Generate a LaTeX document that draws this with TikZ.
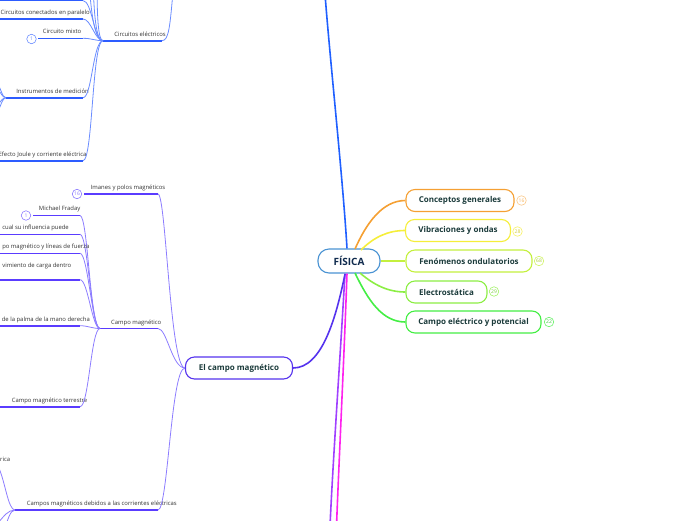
\documentclass[tikz,border=0pt]{standalone}
\usepackage{fontspec}
\setmainfont{Open Sans}
\definecolor{labelgray}{HTML}{333333}
\definecolor{topictext}{HTML}{1B3B3B}
\definecolor{centertext}{HTML}{0F2A4D}
\definecolor{centerborder}{HTML}{4A93D3}
\definecolor{mainblue}{HTML}{2060FF}
\definecolor{cnblue}{HTML}{6A8CFF}
\definecolor{ulblue}{HTML}{2D5CFF}
\definecolor{mainpurple}{HTML}{5533EE}
\definecolor{cnpurple}{HTML}{8C7CFF}
\definecolor{ulpurple}{HTML}{5A3CFF}
\definecolor{orangec}{HTML}{F5A033}
\definecolor{yellowc}{HTML}{F5EE3A}
\definecolor{limec}{HTML}{C4F03E}
\definecolor{green1}{HTML}{8CEE44}
\definecolor{green2}{HTML}{44EE44}
\definecolor{magentac}{HTML}{FF22EE}
\definecolor{violetc}{HTML}{A040FF}
\begin{document}
\begin{tikzpicture}[x=1pt,y=-1pt,
  lbl/.style={font=\fontsize{5.9}{6.5}\selectfont, text=labelgray, inner sep=0pt},
  topic/.style={draw, line width=1.1pt, rounded corners=9pt, fill=white,
    font=\fontsize{8}{9}\selectfont\bfseries, text=topictext,
    minimum height=22pt, inner sep=0pt},
  badge/.style={circle, draw, line width=0.6pt, minimum size=9.5pt, inner sep=0pt,
    font=\fontsize{5}{5}\selectfont},
  mainline/.style={line width=1.6pt},
  cn/.style={line width=0.8pt},
  ul/.style={line width=1.6pt}]
\useasboundingbox (0,0) rectangle (696,520);
\clip (0,0) rectangle (696,520);

% ---------- central node and main branches ----------
\node[draw=centerborder, line width=1.1pt, rounded corners=11pt, fill=white,
  minimum width=62pt, minimum height=24pt, inner sep=0pt,
  font=\fontsize{10}{11}\selectfont\bfseries, text=centertext] (fis) at (349,261) {FÍSICA};

\coordinate (topend) at (325,-6);
\coordinate (magend) at (336.5,526);
\coordinate (vioend) at (330,526);
\draw[mainline, mainblue] (fis.north) ++(-2,0) coordinate (fn) .. controls (343,180) and (330,60) .. (topend);
\draw[mainline, violetc] (fis.south) ++(-4,0) coordinate (fs1) .. controls (340,360) and (333,460) .. (vioend);
\draw[mainline, magentac] (fis.south) ++(-2,0) coordinate (fs2) .. controls (344,360) and (339,460) .. (magend);

% ---------- right topics ----------
\node[topic, draw=orangec, minimum width=108pt] (cg) at (460,200.5) {Conceptos generales};
\node[topic, draw=yellowc, minimum width=105pt] (vo) at (458,230.5) {Vibraciones y ondas};
\node[topic, draw=limec, minimum width=126pt] (fo) at (469,261) {Fenómenos ondulatorios};
\node[topic, draw=green1, minimum width=81pt] (el) at (446.5,292) {Electrostática};
\node[topic, draw=green2, minimum width=135pt] (ce2) at (473.5,322) {Campo eléctrico y potencial};

\node[badge, draw=orangec!60, text=orangec!80] (b1) at (521.5,200.5) {16};
\node[badge, draw=yellowc!80, text=yellowc!85!black] (b2) at (517.5,231.5) {28};
\node[badge, draw=limec!80, text=limec!85!black] (b3) at (539,261) {68};
\node[badge, draw=green1!80, text=green1!85!black] (b4) at (494,291.5) {29};
\node[badge, draw=green2!80, text=green2!85!black] (b5) at (549,322) {22};

\draw[mainline, orangec] (355,249) .. controls (366,224) and (382,200.5) .. (cg.west);
\draw[mainline, yellowc] (361,250) .. controls (374,237) and (388,230.5) .. (vo.west);
\draw[mainline, limec] (fis.east) -- (fo.west);
\draw[mainline, green1] (360,273) .. controls (374,285) and (388,292) .. (el.west);
\draw[mainline, green2] (355,273) .. controls (368,300) and (382,322) .. (ce2.west);

% ---------- El campo magnetico ----------
\node[topic, draw=mainpurple, minimum width=107pt] (cm) at (239,368) {El campo magnético};
\draw[mainline, mainpurple] (345,274) .. controls (336,318) and (322,368) .. (cm.east);

% Imanes
\node[lbl, anchor=base east] (im) at (165.5,189.6) {Imanes y polos magnéticos};
\coordinate (imL) at (84,194);
\coordinate (imR) at (158,194);
\draw[ul, ulpurple] (imL) -- (imR);
\draw[cn, cnpurple] (imR) .. controls (166,194) and (170,368) .. (cm.west);
\node[badge, draw=cnpurple, text=cnpurple] (bim) at (77,194) {16};

% Campos magneticos debidos
\node[lbl, anchor=base east] (cd) at (177,505.8) {Campos magnéticos debidos a las corrientes eléctricas};
\coordinate (cdL) at (15,510);
\coordinate (cdR) at (158,510);
\draw[ul, ulpurple] (cdL) -- (cdR);
\draw[cn, cnpurple] (cdR) .. controls (168,510) and (171,368) .. (cm.west);
\node[lbl, anchor=base west] (rica) at (0,461) {rica};
\coordinate (cdc1) at (-2,466);
\coordinate (cdc2) at (-2,523);
\coordinate (cdc3) at (4,530);
\draw[cn, cnpurple] (cdL) .. controls (8,510) and (5,480) .. (cdc1);
\draw[cn, cnpurple] (cdL) .. controls (8,510) and (4,516) .. (cdc2);
\draw[cn, cnpurple] (cdL) .. controls (10,510) and (8,520) .. (cdc3);

% Campo magnetico
\node[lbl, anchor=base east] (cmg) at (161.5,324.8) {Campo magnético};
\coordinate (cmgL) at (100,328.5);
\coordinate (cmgR) at (158,328.5);
\draw[ul, ulpurple] (cmgL) -- (cmgR);
\draw[cn, cnpurple] (cmgR) .. controls (167,328.5) and (172,368) .. (cm.west);

% children of Campo magnetico
\node[lbl, anchor=base east] (mf) at (80.5,210.8) {Michael Fraday};
\coordinate (mfL) at (33,215.5); \coordinate (mfR) at (80,215.5);
\draw[ul, ulpurple] (mfL) -- (mfR);
\node[badge, draw=cnpurple, text=cnpurple] (bmf) at (26,215.5) {1};
\draw[cn, cnpurple] (mfR) .. controls (88,215.5) and (90,328.5) .. (cmgL);

\node[lbl, anchor=base east] (cs) at (69,229.8) {cual su influencia puede};
\coordinate (csL) at (-2,234.3); \coordinate (csR) at (80,234.3);
\draw[ul, ulpurple] (csL) -- (csR);
\draw[cn, cnpurple] (csR) .. controls (88,234.3) and (91,328.5) .. (cmgL);

\node[lbl, anchor=base east] (pm) at (89.5,248.8) {po magnético y líneas de fuerza};
\coordinate (pmL) at (-2,253.3); \coordinate (pmR) at (80,253.3);
\draw[ul, ulpurple] (pmL) -- (pmR);
\draw[cn, cnpurple] (pmR) .. controls (88,253.3) and (92,328.5) .. (cmgL);

\node[lbl, anchor=base east] (vc) at (71.5,267.8) {vimiento de carga dentro};
\coordinate (vcL) at (-2,279.7); \coordinate (vcR) at (80,279.7);
\draw[ul, ulpurple] (vcL) -- (vcR);
\draw[cn, cnpurple] (vcR) .. controls (88,279.7) and (92,328.5) .. (cmgL);

\node[lbl, anchor=base east] (pa) at (90,321.8) {de la palma de la mano derecha};
\coordinate (paL) at (-2,325.7); \coordinate (paR) at (80,325.7);
\draw[ul, ulpurple] (paL) -- (paR);
\draw[cn, cnpurple] (paR) .. controls (88,325.7) and (92,328.5) .. (cmgL);

\node[lbl, anchor=base east] (te) at (87.5,402.8) {Campo magnético terrestre};
\coordinate (teL) at (-2,406.7); \coordinate (teR) at (80,406.7);
\draw[ul, ulpurple] (teL) -- (teR);
\draw[cn, cnpurple] (teR) .. controls (89,406.7) and (91,328.5) .. (cmgL);

% ---------- Circuitos electricos ----------
\node[lbl, anchor=base east] (cel) at (166,36.1) {Circuitos eléctricos};
\coordinate (celL) at (103,40.7); \coordinate (celR) at (162,40.7);
\coordinate (celtop) at (173,-8);
\draw[ul, ulblue] (celL) -- (celR);
\draw[cn, cnblue] (celR) .. controls (169,40.7) and (170,25) .. (celtop);

\coordinate (c0L) at (-2,0.6); \coordinate (c0R) at (83,0.6);
\draw[ul, ulblue] (c0L) -- (c0R);
\draw[cn, cnblue] (c0R) .. controls (92,0.6) and (94,40.7) .. (celL);

\node[lbl, anchor=base east] (cp) at (90,14.8) {Circuitos conectados en paralelo};
\coordinate (cpL) at (-2,19); \coordinate (cpR) at (83,19);
\draw[ul, ulblue] (cpL) -- (cpR);
\draw[cn, cnblue] (cpR) .. controls (91,19) and (95,40.7) .. (celL);

\node[lbl, anchor=base east] (mx) at (81.5,33.5) {Circuito mixto};
\coordinate (mxL) at (38,38.3); \coordinate (mxR) at (83,38.3);
\draw[ul, ulblue] (mxL) -- (mxR);
\draw[cn, cnblue] (mxR) .. controls (92,38.3) and (95,40.7) .. (celL);
\node[badge, draw=cnblue, text=cnblue] (bmx) at (31.5,39) {1};

\node[lbl, anchor=base east] (in) at (89,93.5) {Instrumentos de medición};
\coordinate (inL) at (6,97.7); \coordinate (inR) at (83,97.7);
\draw[ul, ulblue] (inL) -- (inR);
\draw[cn, cnblue] (inR) .. controls (92,97.7) and (93,40.7) .. (celL);
\coordinate (in1) at (-2,85); \coordinate (in2) at (-2,90);
\coordinate (in3) at (-2,104); \coordinate (in4) at (-2,110);
\draw[cn, cnblue] (inL) .. controls (2,97.7) and (1,88) .. (in1);
\draw[cn, cnblue] (inL) .. controls (2,97.7) and (1,92) .. (in2);
\draw[cn, cnblue] (inL) .. controls (2,97.7) and (1,102) .. (in3);
\draw[cn, cnblue] (inL) .. controls (2,97.7) and (1,107) .. (in4);

\node[lbl, anchor=base west] (ej) at (-1.5,156.8) {Efecto Joule y corriente eléctrica};
\coordinate (ejL) at (-2,160.7); \coordinate (ejR) at (83,160.7);
\draw[ul, ulblue] (ejL) -- (ejR);
\draw[cn, cnblue] (ejR) .. controls (93,160.7) and (92,40.7) .. (celL);

\coordinate (up1) at (89,-20); \coordinate (up2) at (93,-20); \coordinate (up3) at (97,-20);
\draw[cn, cnblue] (celL) .. controls (95,40.7) and (91,15) .. (up1);
\draw[cn, cnblue] (celL) .. controls (96,40.7) and (94,15) .. (up2);
\draw[cn, cnblue] (celL) .. controls (98,40.7) and (97,15) .. (up3);
\end{tikzpicture}
\end{document}
